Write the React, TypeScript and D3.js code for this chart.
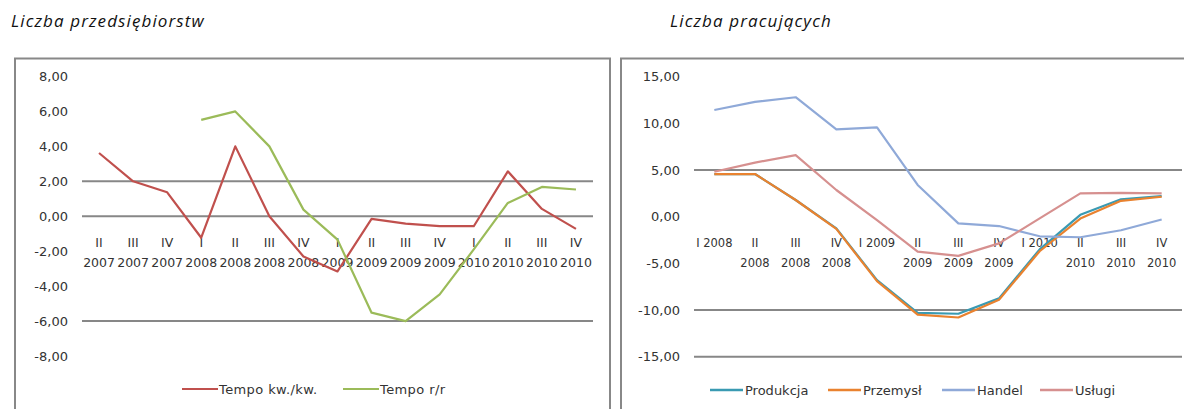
import React from "react";
import * as d3 from "d3";

// ---- Left chart data: Liczba przedsiębiorstw ----
const leftQuarters = ["II", "III", "IV", "I", "II", "III", "IV", "I", "II", "III", "IV", "I", "II", "III", "IV"];
const leftYears = ["2007", "2007", "2007", "2008", "2008", "2008", "2008", "2009", "2009", "2009", "2009", "2010", "2010", "2010", "2010"];
const tempoKwKw: (number | null)[] = [3.62, 2.0, 1.37, -1.23, 4.0, 0.0, -2.3, -3.16, -0.15, -0.42, -0.57, -0.57, 2.57, 0.42, -0.72];
const tempoRr: (number | null)[] = [null, null, null, 5.52, 6.0, 4.0, 0.38, -1.34, -5.52, -6.0, -4.47, -1.9, 0.76, 1.68, 1.53];
const leftTicks = [8, 6, 4, 2, 0, -2, -4, -6, -8];
const leftGrid = [2, 0, -6];
const leftSeriesNames = ["Tempo kw./kw.", "Tempo r/r"];

// ---- Right chart data: Liczba pracujących ----
const rightLabelRow1 = ["I 2008", "II", "III", "IV", "I 2009", "II", "III", "IV", "I 2010", "II", "III", "IV"];
const rightLabelRow2 = ["", "2008", "2008", "2008", "", "2009", "2009", "2009", "", "2010", "2010", "2010"];
const produkcja = [4.57, 4.57, 1.79, -1.25, -6.8, -10.3, -10.4, -8.75, -3.5, 0.2, 1.86, 2.2];
const przemysl = [4.57, 4.57, 1.79, -1.3, -6.9, -10.5, -10.8, -8.9, -3.7, -0.2, 1.7, 2.14];
const handel = [11.43, 12.3, 12.8, 9.36, 9.58, 3.4, -0.72, -1.0, -2.1, -2.2, -1.45, -0.3];
const uslugi = [4.82, 5.79, 6.6, 2.86, -0.36, -3.75, -4.2, -2.86, -0.18, 2.5, 2.55, 2.5];
const rightTicks = [15, 10, 5, 0, -5, -10, -15];
const rightGrid = [5, -10, -15];
const rightSeriesNames = ["Produkcja", "Przemysł", "Handel", "Usługi"];

const fmt = (v: number) => v.toFixed(2).replace(".", ",");
const AXIS_FONT = "'DejaVu Sans', sans-serif";
const GRID = "#878787";

function Line({ xs, ys, vals, color }: { xs: number[]; ys: d3.ScaleLinear<number, number>; vals: (number | null)[]; color: string }) {
  const gen = d3
    .line<number | null>()
    .defined((d) => d !== null)
    .x((_, i) => xs[i])
    .y((d) => ys(d as number));
  return <path d={gen(vals) || ""} fill="none" stroke={color} strokeWidth={2.2} strokeLinejoin="round" />;
}

export default function App() {
  const lx = d3.scalePoint<number>().domain(d3.range(leftQuarters.length)).range([82, 593]).padding(0.5);
  const ly = d3.scaleLinear().domain([-8, 8]).range([356, 76.5]);
  const lxs = d3.range(leftQuarters.length).map((i) => lx(i) as number);

  const rx = d3.scalePoint<number>().domain(d3.range(rightLabelRow1.length)).range([694, 1182]).padding(0.5);
  const ry = d3.scaleLinear().domain([-15, 15]).range([356.7, 76.7]);
  const rxs = d3.range(rightLabelRow1.length).map((i) => rx(i) as number);

  const leftColors = ["#C0504D", "#9BBB59"];
  const rightColors = ["#3A9AB2", "#E9822F", "#8FA9D8", "#D6908F"];

  const leftLegendX = [182, 343];
  const rightLegendX = [710, 828, 942, 1040];

  return (
    <svg width={1184} height={409} style={{ position: "absolute", left: 0, top: 0, background: "#fff" }}>
      <text x={11} y={27} fontFamily="'Open Sans', sans-serif" fontStyle="italic" fontSize={17} letterSpacing={1.1} fill="#111">
        Liczba przedsiębiorstw
      </text>
      <text x={670} y={27} fontFamily="'Open Sans', sans-serif" fontStyle="italic" fontSize={17} letterSpacing={1.1} fill="#111">
        Liczba pracujących
      </text>

      <rect x={15} y={58.5} width={595} height={370} fill="none" stroke="#888" strokeWidth={2} />
      <rect x={621} y={58.5} width={600} height={370} fill="none" stroke="#888" strokeWidth={2} />

      {/* Left chart */}
      {leftGrid.map((v) => (
        <line key={"lg" + v} x1={82} x2={593} y1={ly(v)} y2={ly(v)} stroke={GRID} strokeWidth={2} />
      ))}
      {leftTicks.map((v) => (
        <text key={"lt" + v} x={68} y={ly(v)} textAnchor="end" dominantBaseline="central" fontFamily={AXIS_FONT} fontSize={13} fill="#333">
          {fmt(v)}
        </text>
      ))}
      {leftQuarters.map((q, i) => (
        <g key={"lx" + i} fontFamily={AXIS_FONT} fontSize={12.5} fill="#333" textAnchor="middle">
          <text x={lxs[i]} y={242} dominantBaseline="central">{q}</text>
          <text x={lxs[i]} y={262} dominantBaseline="central">{leftYears[i]}</text>
        </g>
      ))}
      <Line xs={lxs} ys={ly} vals={tempoKwKw} color={leftColors[0]} />
      <Line xs={lxs} ys={ly} vals={tempoRr} color={leftColors[1]} />
      {leftSeriesNames.map((n, i) => (
        <g key={"ll" + i}>
          <line x1={leftLegendX[i]} x2={leftLegendX[i] + 36} y1={389} y2={389} stroke={leftColors[i]} strokeWidth={2.2} />
          <text x={leftLegendX[i] + 37} y={389} dominantBaseline="central" fontFamily={AXIS_FONT} fontSize={13} letterSpacing={0.4} fill="#333">
            {n}
          </text>
        </g>
      ))}

      {/* Right chart */}
      {rightGrid.map((v) => (
        <line key={"rg" + v} x1={694} x2={1182} y1={ry(v)} y2={ry(v)} stroke={GRID} strokeWidth={2} />
      ))}
      {rightTicks.map((v) => (
        <text key={"rt" + v} x={680} y={ry(v)} textAnchor="end" dominantBaseline="central" fontFamily={AXIS_FONT} fontSize={13} fill="#333">
          {fmt(v)}
        </text>
      ))}
      {rightLabelRow1.map((q, i) => (
        <g key={"rx" + i} fontFamily={AXIS_FONT} fontSize={11.5} fill="#333" textAnchor="middle">
          <text x={rxs[i]} y={243} dominantBaseline="central">{q}</text>
          {rightLabelRow2[i] && (
            <text x={rxs[i]} y={263} dominantBaseline="central">{rightLabelRow2[i]}</text>
          )}
        </g>
      ))}
      <Line xs={rxs} ys={ry} vals={produkcja} color={rightColors[0]} />
      <Line xs={rxs} ys={ry} vals={przemysl} color={rightColors[1]} />
      <Line xs={rxs} ys={ry} vals={handel} color={rightColors[2]} />
      <Line xs={rxs} ys={ry} vals={uslugi} color={rightColors[3]} />
      {rightSeriesNames.map((n, i) => (
        <g key={"rl" + i}>
          <line x1={rightLegendX[i]} x2={rightLegendX[i] + 33} y1={390} y2={390} stroke={rightColors[i]} strokeWidth={2.5} />
          <text x={rightLegendX[i] + 35} y={390} dominantBaseline="central" fontFamily={AXIS_FONT} fontSize={13} fill="#333">
            {n}
          </text>
        </g>
      ))}
    </svg>
  );
}
